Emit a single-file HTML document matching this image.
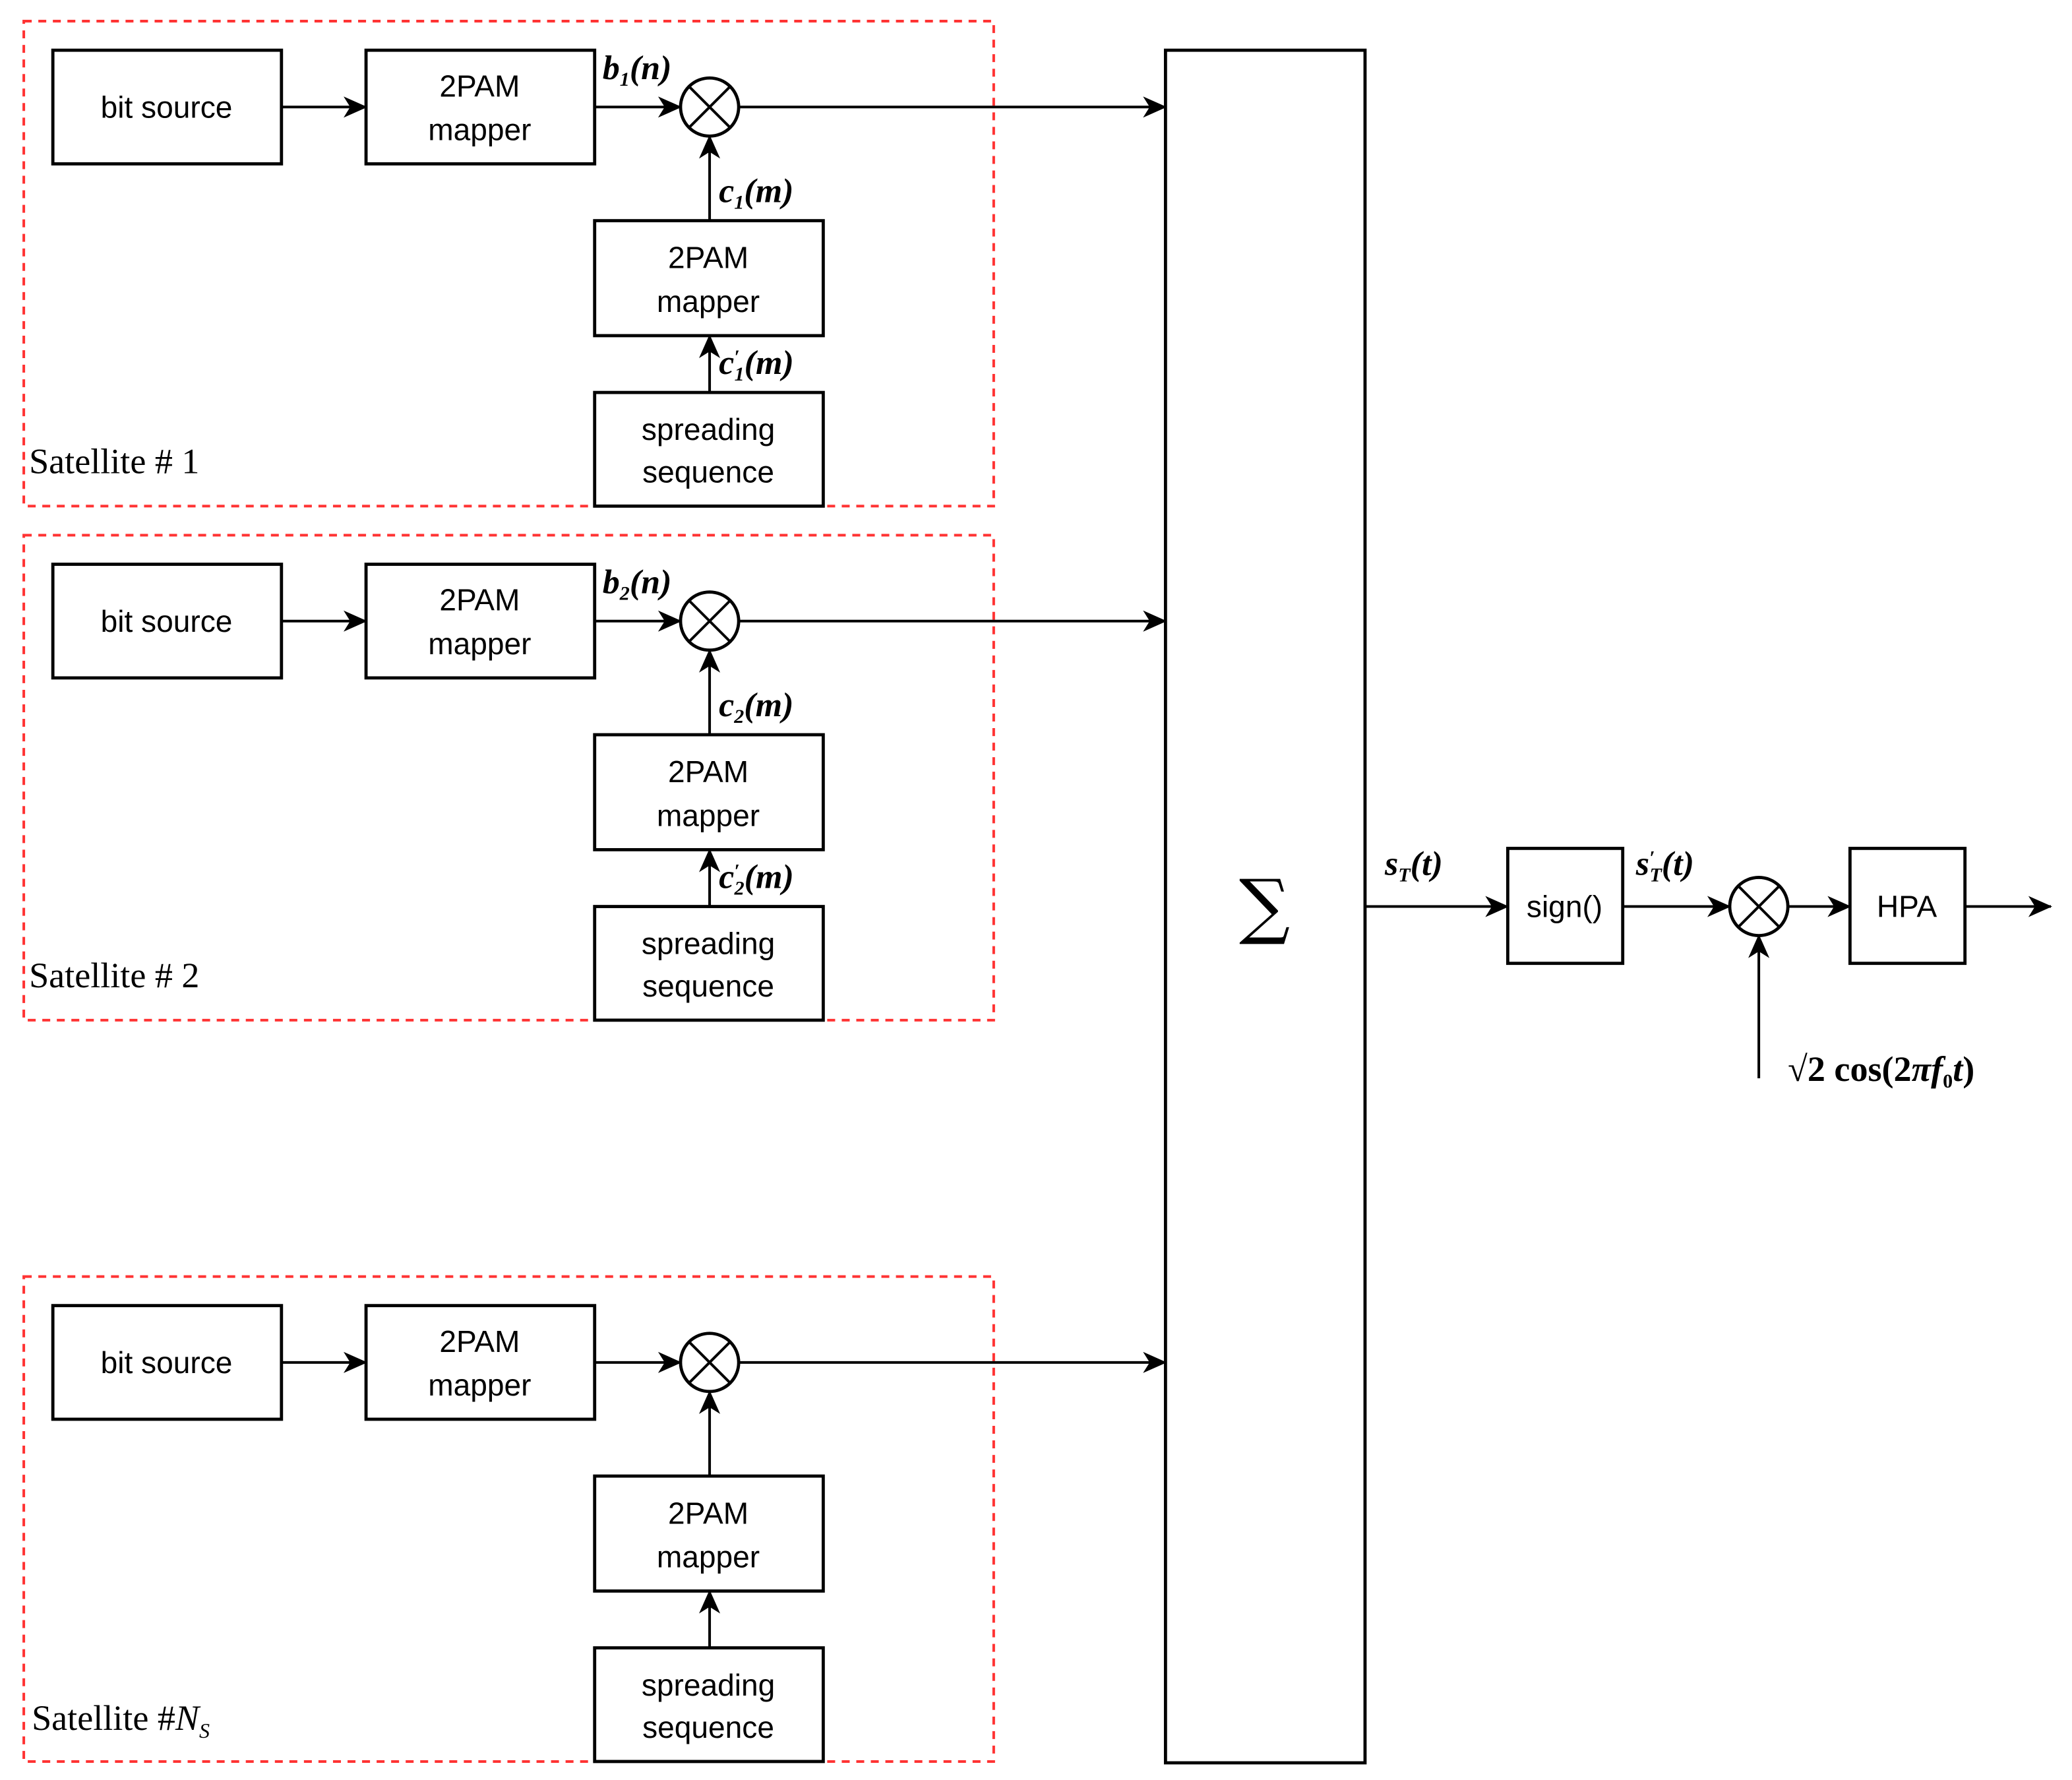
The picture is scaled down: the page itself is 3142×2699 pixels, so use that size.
<!DOCTYPE html>
<html><head><meta charset="utf-8"><style>
html,body{margin:0;padding:0;background:#fff;}
svg{display:block;}
.t{font-family:"Liberation Sans",sans-serif;font-size:23px;text-anchor:middle;}
.m{font-family:"Liberation Serif",serif;font-style:italic;font-size:26px;font-weight:bold;}
.s{font-family:"Liberation Serif",serif;font-size:27px;}
</style></head><body>
<svg width="3142" height="2699" viewBox="0 0 1568 1347" preserveAspectRatio="none" xmlns="http://www.w3.org/2000/svg">
<defs>
<marker id="a" viewBox="0 0 18 16" refX="17" refY="8" markerWidth="18" markerHeight="16" markerUnits="userSpaceOnUse" orient="auto">
<path d="M0,0 L18,8 L0,16 L5,8 Z" fill="#000"/></marker>
<g id="sat">
<rect x="18" y="16" width="734" height="367" fill="none" stroke="#f33" stroke-width="2" stroke-dasharray="6,5"/>
<rect x="40" y="38" width="173" height="86" fill="#fff" stroke="#000" stroke-width="2.4"/>
<text class="t" x="126" y="89">bit source</text>
<rect x="277" y="38" width="173" height="86" fill="#fff" stroke="#000" stroke-width="2.4"/>
<text class="t" x="363" y="73">2PAM</text><text class="t" x="363" y="106">mapper</text>
<line x1="213" y1="81" x2="277" y2="81" stroke="#000" stroke-width="2" marker-end="url(#a)"/>
<line x1="450" y1="81" x2="515" y2="81" stroke="#000" stroke-width="2" marker-end="url(#a)"/>
<circle cx="537" cy="81" r="22" fill="#fff" stroke="#000" stroke-width="2.4"/>
<line x1="521.4" y1="65.4" x2="552.6" y2="96.6" stroke="#000" stroke-width="2"/>
<line x1="552.6" y1="65.4" x2="521.4" y2="96.6" stroke="#000" stroke-width="2"/>
<line x1="559" y1="81" x2="882" y2="81" stroke="#000" stroke-width="2" marker-end="url(#a)"/>
<line x1="537" y1="167" x2="537" y2="103" stroke="#000" stroke-width="2" marker-end="url(#a)"/>
<rect x="450" y="167" width="173" height="87" fill="#fff" stroke="#000" stroke-width="2.4"/>
<text class="t" x="536" y="203">2PAM</text><text class="t" x="536" y="236">mapper</text>
<line x1="537" y1="297" x2="537" y2="254" stroke="#000" stroke-width="2" marker-end="url(#a)"/>
<rect x="450" y="297" width="173" height="86" fill="#fff" stroke="#000" stroke-width="2.4"/>
<text class="t" x="536" y="333">spreading</text><text class="t" x="536" y="365">sequence</text>
</g>
</defs>
<use href="#sat"/>
<use href="#sat" y="389"/>
<use href="#sat" y="950"/>
<text class="m" x="456" y="60">b<tspan font-size="15" dy="5">1</tspan><tspan dy="-5">(n)</tspan></text>
<text class="m" x="544" y="153">c<tspan font-size="15" dy="5">1</tspan><tspan dy="-5">(m)</tspan></text>
<text class="m" x="544" y="283">c<tspan font-size="15" dy="-8">′</tspan><tspan font-size="15" dx="-4" dy="13">1</tspan><tspan dy="-5">(m)</tspan></text>
<text class="s" x="22" y="358">Satellite # 1</text>
<text class="m" x="456" y="449">b<tspan font-size="15" dy="5">2</tspan><tspan dy="-5">(n)</tspan></text>
<text class="m" x="544" y="542">c<tspan font-size="15" dy="5">2</tspan><tspan dy="-5">(m)</tspan></text>
<text class="m" x="544" y="672">c<tspan font-size="15" dy="-8">′</tspan><tspan font-size="15" dx="-4" dy="13">2</tspan><tspan dy="-5">(m)</tspan></text>
<text class="s" x="22" y="747">Satellite # 2</text>
<text class="s" x="24" y="1309">Satellite #<tspan font-style="italic">N</tspan><tspan font-size="16" font-style="italic" dy="6">S</tspan></text>
<rect x="882" y="38" width="151" height="1296" fill="#fff" stroke="#000" stroke-width="2.4"/>
<text x="957" y="704" font-family="DejaVu Serif,serif" font-size="54" text-anchor="middle">∑</text>
<line x1="1033" y1="686" x2="1141" y2="686" stroke="#000" stroke-width="2" marker-end="url(#a)"/>
<text class="m" x="1048" y="662">s<tspan font-size="15" dy="5">T</tspan><tspan dy="-5">(t)</tspan></text>
<rect x="1141" y="642" width="87" height="87" fill="#fff" stroke="#000" stroke-width="2.4"/>
<text class="t" x="1184" y="694">sign()</text>
<line x1="1228" y1="686" x2="1309" y2="686" stroke="#000" stroke-width="2" marker-end="url(#a)"/>
<text class="m" x="1238" y="662">s<tspan font-size="15" dy="-8">′</tspan><tspan font-size="15" dx="-4" dy="13">T</tspan><tspan dy="-5">(t)</tspan></text>
<circle cx="1331" cy="686" r="22" fill="#fff" stroke="#000" stroke-width="2.4"/>
<line x1="1315.4" y1="670.4" x2="1346.6" y2="701.6" stroke="#000" stroke-width="2"/>
<line x1="1346.6" y1="670.4" x2="1315.4" y2="701.6" stroke="#000" stroke-width="2"/>
<line x1="1331" y1="816" x2="1331" y2="708" stroke="#000" stroke-width="2" marker-end="url(#a)"/>
<line x1="1353" y1="686" x2="1400" y2="686" stroke="#000" stroke-width="2" marker-end="url(#a)"/>
<rect x="1400" y="642" width="87" height="87" fill="#fff" stroke="#000" stroke-width="2.4"/>
<text class="t" x="1443" y="694">HPA</text>
<line x1="1487" y1="686" x2="1552" y2="686" stroke="#000" stroke-width="2" marker-end="url(#a)"/>
<text class="s" x="1353" y="818" font-weight="bold">√2 cos(2<tspan font-style="italic">πf</tspan><tspan font-size="15" dy="5">0</tspan><tspan dy="-5" font-style="italic">t</tspan>)</text>
</svg>
</body></html>
